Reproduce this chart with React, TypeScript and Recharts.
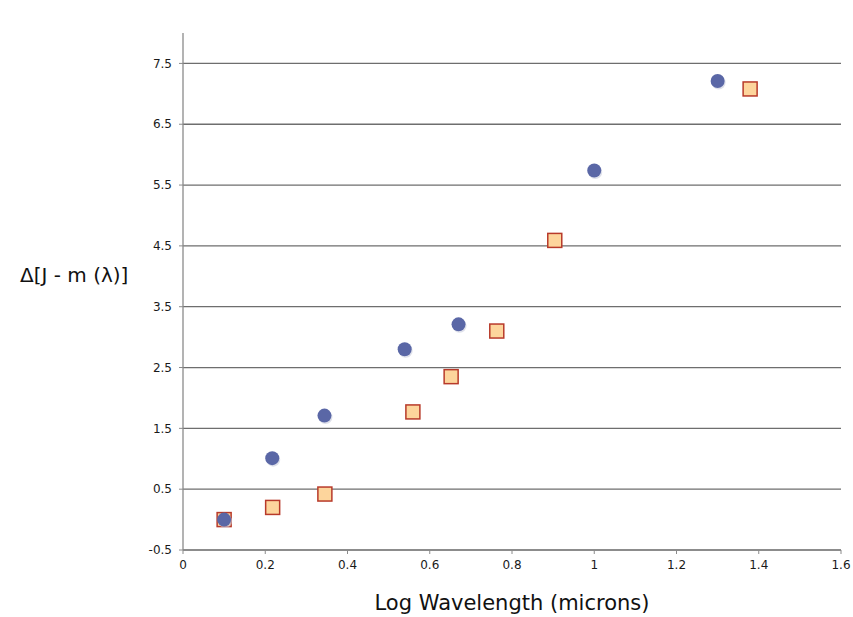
import React from 'react';
import { ScatterChart, Scatter, XAxis, YAxis, CartesianGrid, Label } from 'recharts';

const circleX = [0.1, 0.217, 0.344, 0.539, 0.670, 1.0, 1.300];
const circleY = [0.0, 1.01, 1.71, 2.80, 3.21, 5.74, 7.21];
const squareX = [0.1, 0.218, 0.345, 0.559, 0.652, 0.763, 0.904, 1.379];
const squareY = [0.0, 0.20, 0.42, 1.77, 2.35, 3.10, 4.59, 7.08];
const xTicks = [0, 0.2, 0.4, 0.6, 0.8, 1, 1.2, 1.4, 1.6];
const yTicks = [-0.5, 0.5, 1.5, 2.5, 3.5, 4.5, 5.5, 6.5, 7.5];

const circles = circleX.map((x, i) => ({ x, y: circleY[i] }));
const squares = squareX.map((x, i) => ({ x, y: squareY[i] }));

const FONT = '"DejaVu Sans", Verdana, sans-serif';

const CircleShape = (p: any) => (
  <g>
    <circle cx={p.cx + 1} cy={p.cy + 1.5} r={7} fill="#c8cbdc" opacity={0.6} />
    <circle cx={p.cx} cy={p.cy} r={7} fill="#5a67a6" />
  </g>
);
const SquareShape = (p: any) => (
  <g>
    <rect x={p.cx - 7} y={p.cy - 7} width={14} height={14} fill="#fdd59c" stroke="#b83a2a" strokeWidth={1.5} />
  </g>
);

export default function App() {
  return (
    <div style={{ position: 'absolute', left: 0, top: 0, background: '#fff' }}>
      <ScatterChart width={853} height={617} margin={{ top: 33, right: 12, bottom: 0, left: 0 }}>
        <CartesianGrid
          horizontal={true}
          vertical={false}
          stroke="#6e6e6e"
          strokeWidth={1.3}
          horizontalValues={yTicks}
        />
        <XAxis
          type="number"
          dataKey="x"
          domain={[0, 1.6]}
          ticks={xTicks}
          height={67}
          axisLine={{ stroke: '#8a8a8a', strokeWidth: 1.3 }}
          tickLine={{ stroke: '#8a8a8a' }}
          tickSize={4}
          tickMargin={6}
          tick={{ fill: '#1a1a1a', fontSize: 12, fontFamily: FONT }}
          tickFormatter={(v: number) => String(v)}
        >
          <Label
            content={(props: any) => {
              const vb = props.viewBox;
              return (
                <text x={vb.x + vb.width / 2} y={604} textAnchor="middle" dominantBaseline="middle" fontSize={21} fontFamily={FONT} fill="#111">
                  Log Wavelength (microns)
                </text>
              );
            }}
          />
        </XAxis>
        <YAxis
          type="number"
          dataKey="y"
          domain={[-0.5, 8]}
          ticks={yTicks}
          width={183}
          axisLine={{ stroke: '#8a8a8a', strokeWidth: 1.3 }}
          tickLine={{ stroke: '#8a8a8a' }}
          tickSize={4}
          tickMargin={7}
          tick={{ fill: '#1a1a1a', fontSize: 12, fontFamily: FONT }}
          tickFormatter={(v: number) => v.toFixed(1)}
        >
          <Label
            content={() => (
              <text x={20} y={276} textAnchor="start" dominantBaseline="middle" fontSize={20} fontFamily={FONT} fill="#111">
                Δ[J - m (λ)]
              </text>
            )}
          />
        </YAxis>
        <Scatter data={squares} shape={SquareShape} isAnimationActive={false} />
        <Scatter data={circles} shape={CircleShape} isAnimationActive={false} />
      </ScatterChart>
    </div>
  );
}
